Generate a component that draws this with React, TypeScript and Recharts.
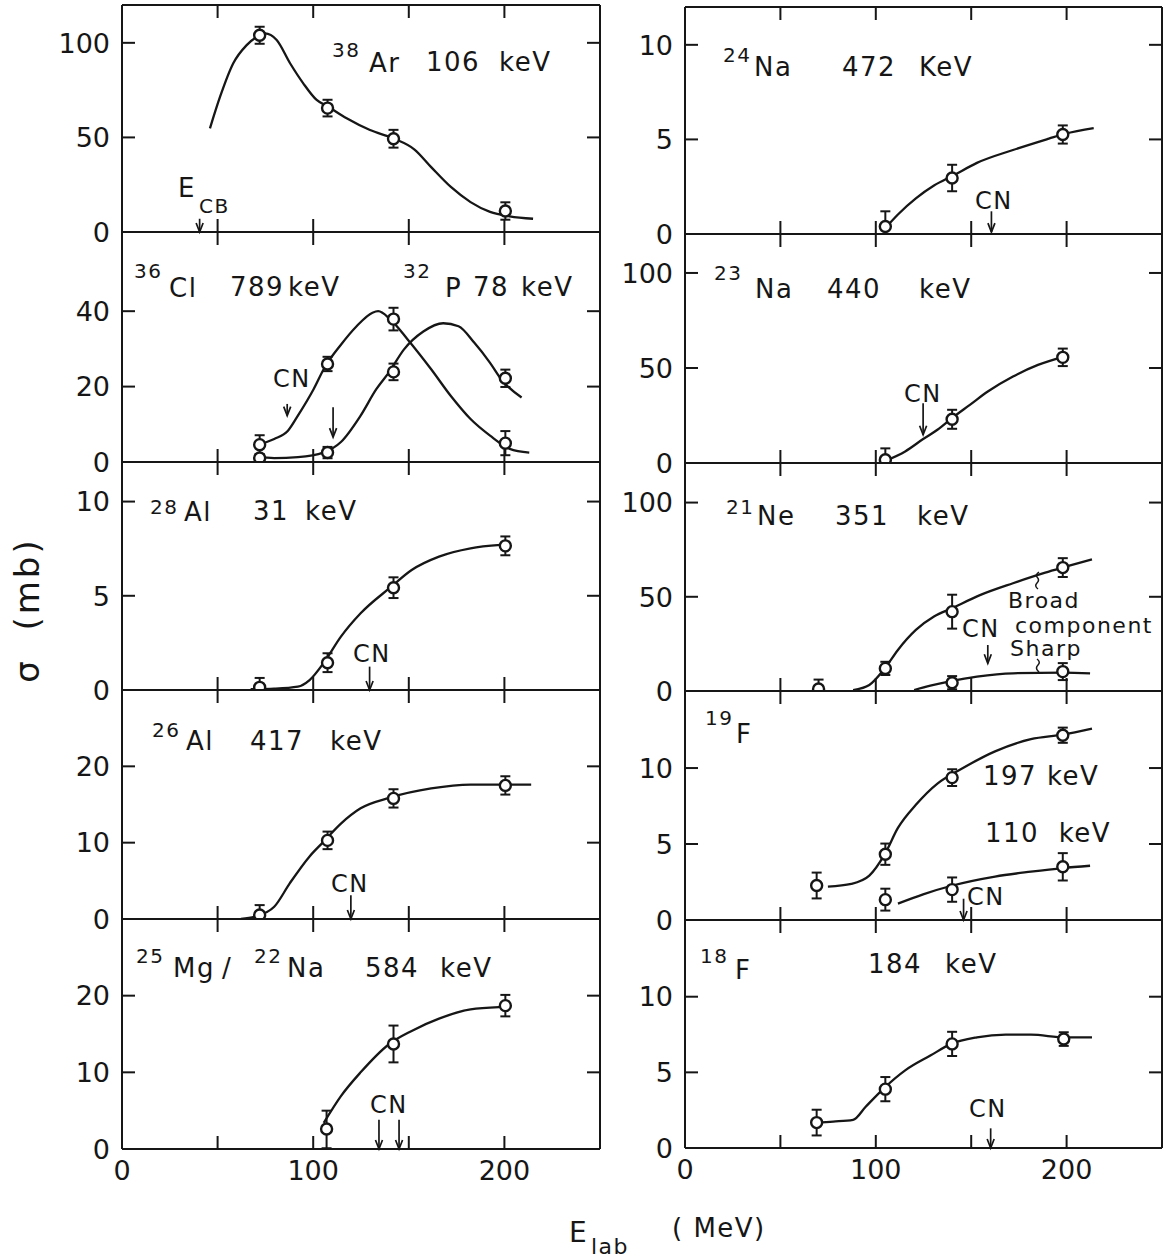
import React from 'react';
import { ComposedChart, Line, Scatter, XAxis, YAxis, ErrorBar, ReferenceLine } from 'recharts';

const FONT = '"DejaVu Sans", sans-serif';
const ink = '#161616';

// x axis (E lab, MeV)
const xTicks = [0, 50, 100, 150, 200, 250];

// measured points: [E, sigma, error]  (error may be [down, up])
const ar38Pts = [[72, 104, 4.5], [107.5, 65.5, 4.4], [142, 49.3, 4.7], [200.5, 11.1, 4.6]];
const na24Pts = [[105, 0.4, [0.4, 0.8]], [140, 2.96, 0.7], [198, 5.26, 0.48]];
const cl36Pts = [[72, 4.6, 2.5], [107.5, 26, 1.9], [142, 37.9, 3], [200.5, 5, 3.2]];
const p32Pts = [[72, 1.05, 0], [107.5, 2.5, 1.5], [142, 23.9, 2.2], [200.5, 22.2, 2.3]];
const na23Pts = [[105, 1.7, [1.7, 6]], [140, 23, 5], [198, 55.6, 4.6]];
const al28Pts = [[72, 0.14, [0.14, 0.5]], [107.5, 1.45, 0.5], [142, 5.43, 0.55], [200.5, 7.65, 0.5]];
const ne21BroadPts = [[70, 1.06, [1, 5]], [105, 12, 3.5], [140, 42.1, 9], [198, 65.5, 5]];
const ne21SharpPts = [[140, 4.4, 3.5], [198, 10.3, 4.5]];
const al26Pts = [[72, 0.52, [0.52, 1.3]], [107.5, 10.3, 1.15], [142, 15.8, 1.2], [200.5, 17.5, 1.2]];
const f19HiPts = [[69, 2.27, 0.85], [105, 4.33, 0.7], [140, 9.37, 0.55], [198, 12.16, 0.5]];
const f19LoPts = [[105, 1.34, 0.72], [140, 2.0, 0.8], [198, 3.5, 0.9]];
const mgPts = [[107, 2.6, [2.5, 2.4]], [142, 13.7, 2.4], [200.5, 18.7, 1.4]];
const f18Pts = [[69, 1.68, 0.85], [105, 3.89, 0.8], [140, 6.88, 0.8], [198.5, 7.2, 0.45]];

// hand-drawn fit curves: [E, sigma]
const ar38Fit = [[46, 54.8], [51.3, 71.5], [58.2, 89.2], [65.2, 98.8], [72.2, 104.1], [74.8, 105], [80.9, 101.5], [87.9, 89.2], [94.8, 78.6], [101.8, 69.8], [107.9, 66.2], [117.5, 60.1], [129.7, 53.9], [141.9, 49.5], [153, 43.6], [161.7, 34.3], [172, 23.8], [182.3, 15.8], [192.5, 10.6], [202.8, 8.3], [215, 7]];
const na24Fit = [[105.6, 0.38], [111.6, 1.03], [121, 1.88], [130.5, 2.56], [140.4, 3.08], [153, 3.76], [171.9, 4.44], [190.7, 5.04], [199.2, 5.3], [214.2, 5.6]];
const cl36Fit = [[69.4, 4.4], [79.6, 6.1], [86.8, 8.3], [92, 12.3], [100.2, 19.3], [105.9, 25], [114.5, 31.1], [122.7, 36], [131, 39.6], [134, 40], [140.2, 37.9], [149.4, 32.5], [161.7, 24.6], [172, 17.5], [182.3, 11.4], [192.5, 7], [202.8, 3.5], [213, 2.5]];
const p32Fit = [[70.4, 1.5], [79.6, 1.05], [92, 1.3], [105.3, 2.5], [114.5, 5.3], [124.8, 12.3], [133, 19.3], [139.8, 23.9], [147.4, 29.8], [157.6, 34.6], [168, 36.8], [176, 36], [184.3, 31.6], [192.5, 26.3], [198.7, 21.7], [209, 17.1]];
const na23Fit = [[105.6, 1.4], [115.4, 6.1], [124.8, 12.6], [132.3, 17.5], [139.9, 23.6], [149.3, 30.6], [158.7, 37.6], [171.9, 45.5], [185, 51.6], [198.6, 56]];
const al28Fit = [[67.3, 0.04], [79.6, 0.07], [92, 0.18], [98.1, 0.53], [105.9, 1.5], [114.5, 2.83], [124.8, 4.07], [140.2, 5.43], [151.5, 6.37], [165.8, 7.08], [182.3, 7.52], [198, 7.7]];
const ne21BroadFit = [[88.1, 0.5], [96.6, 3.2], [104.7, 12], [111.6, 21.8], [121, 32.4], [130.5, 39.5], [139.9, 43.9], [154.9, 51], [171.9, 57.2], [188.8, 62.8], [198.6, 65.7], [213.3, 69.9]];
const ne21SharpFit = [[120.1, 0.5], [128.6, 2.8], [138.9, 5.1], [153, 7.6], [171.9, 9.4], [198.2, 9.7], [212.3, 9.4]];
const al26Fit = [[62.2, 0], [69.4, 0.3], [79.6, 1.6], [87.8, 4.7], [98.1, 8.2], [105.3, 10.1], [114.5, 12.5], [124.8, 14.5], [140.2, 15.9], [161.7, 17.1], [182.3, 17.6], [214, 17.6]];
const f19HiFit = [[74.9, 2.2], [87.2, 2.38], [96.6, 2.92], [104.7, 4.33], [111.6, 6.06], [121, 7.58], [132.3, 8.98], [143.6, 9.85], [162.5, 11.1], [181.3, 11.9], [197.9, 12.2], [213.3, 12.6]];
const f19LoFit = [[111.6, 1.08], [124.8, 1.69], [140.2, 2.27], [162.5, 2.86], [181.3, 3.18], [197.9, 3.42], [212.3, 3.57]];
const mgFit = [[105.5, 3.4], [114.5, 6.9], [124.8, 10], [139.8, 13.7], [151.5, 15.4], [165.8, 17], [182.3, 18.2], [197.2, 18.5]];
const f18Fit = [[68.7, 1.68], [77.7, 1.75], [88.1, 1.86], [94.7, 2.73], [104.1, 3.93], [115.4, 5.13], [128.6, 6.11], [139.5, 6.88], [153, 7.31], [168.1, 7.49], [181.3, 7.49], [199.2, 7.31], [213.3, 7.31]];

// arrows (E_CB / CN): [E, from sigma, to sigma]
const ar38Arrows = [[40.6, 7, 0]];
const na24Arrows = [[160.6, 1.2, 0.1]];
const clpArrows = [[86.4, 15.4, 12.3], [110.4, 14.5, 6.6]];
const na23Arrows = [[124.8, 31.5, 14.9]];
const al28Arrows = [[129.5, 1.24, 0]];
const ne21Arrows = [[158.7, 24.4, 14.7]];
const al26Arrows = [[119.7, 3.1, 0]];
const f19Arrows = [[146, 1.4, 0]];
const mgArrows = [[134.4, 3.8, 0], [144.9, 3.8, 0]];
const f18Arrows = [[160.2, 1.3, 0]];

const toPts = (a: any[]) => a.map(([x, y, e]) => ({ x, y, e }));
const toFit = (a: number[][]) => a.map(([x, y]) => ({ x, y }));

type Panel = {
  left: number; top: number; bottom: number; plotW: number;
  yMax: number; yTicks: number[];
  fits: number[][][]; pts: any[][]; arrows: number[][]; last?: boolean;
};

const LCOL = { left: 122, plotW: 478 };
const RCOL = { left: 685, plotW: 477 };

const panels: Panel[] = [
  { ...LCOL, top: 5, bottom: 232, yMax: 120, yTicks: [0, 50, 100], fits: [ar38Fit], pts: [ar38Pts], arrows: ar38Arrows },
  { ...LCOL, top: 232, bottom: 462, yMax: 61, yTicks: [0, 20, 40], fits: [cl36Fit, p32Fit], pts: [cl36Pts, p32Pts], arrows: clpArrows },
  { ...LCOL, top: 462, bottom: 690, yMax: 12.1, yTicks: [0, 5, 10], fits: [al28Fit], pts: [al28Pts], arrows: al28Arrows },
  { ...LCOL, top: 690, bottom: 919, yMax: 30, yTicks: [0, 10, 20], fits: [al26Fit], pts: [al26Pts], arrows: al26Arrows },
  { ...LCOL, top: 919, bottom: 1149, yMax: 30, yTicks: [0, 10, 20], fits: [mgFit], pts: [mgPts], arrows: mgArrows, last: true },
  { ...RCOL, top: 7, bottom: 234, yMax: 12, yTicks: [0, 5, 10], fits: [na24Fit], pts: [na24Pts], arrows: na24Arrows },
  { ...RCOL, top: 234, bottom: 463, yMax: 120.5, yTicks: [0, 50, 100], fits: [na23Fit], pts: [na23Pts], arrows: na23Arrows },
  { ...RCOL, top: 463, bottom: 691, yMax: 121, yTicks: [0, 50, 100], fits: [ne21BroadFit, ne21SharpFit], pts: [ne21BroadPts, ne21SharpPts], arrows: ne21Arrows },
  { ...RCOL, top: 691, bottom: 920, yMax: 15.07, yTicks: [0, 5, 10], fits: [f19HiFit, f19LoFit], pts: [f19HiPts, f19LoPts], arrows: f19Arrows },
  { ...RCOL, top: 920, bottom: 1148, yMax: 15.07, yTicks: [0, 5, 10], fits: [f18Fit], pts: [f18Pts], arrows: f18Arrows, last: true },
];

const AXIS = { stroke: ink, strokeWidth: 2 };
const TL = 13;

function BottomTick(props: any) {
  const { x, y, payload, show } = props;
  const v = payload.value;
  return (
    <g>
      {v > 0 && v < 250 && <line x1={x} y1={y} x2={x} y2={y - TL} stroke={ink} strokeWidth={2} />}
      {show && v % 100 === 0 && (
        <text x={x} y={y + 31} textAnchor="middle" fontSize={27} fontFamily={FONT} fill={ink}>{v}</text>
      )}
    </g>
  );
}

function TopTick(props: any) {
  const { x, y, payload } = props;
  const v = payload.value;
  if (v <= 0 || v >= 250) return <g />;
  return <line x1={x} y1={y} x2={x} y2={y + TL} stroke={ink} strokeWidth={2} />;
}

function LeftTick(props: any) {
  const { x, y, payload, max } = props;
  const v = payload.value;
  return (
    <g>
      {v > 0 && v < max && <line x1={x} y1={y} x2={x + TL} y2={y} stroke={ink} strokeWidth={2} />}
      <text x={x - 12} y={y} dy="0.36em" textAnchor="end" fontSize={27} fontFamily={FONT} fill={ink}>{v}</text>
    </g>
  );
}

function RightTick(props: any) {
  const { x, y, payload, max } = props;
  const v = payload.value;
  if (v <= 0 || v >= max) return <g />;
  return <line x1={x} y1={y} x2={x - TL} y2={y} stroke={ink} strokeWidth={2} />;
}

const Ring = (props: any) => (
  <circle cx={props.cx} cy={props.cy} r={5.5} fill="#fff" stroke={ink} strokeWidth={2.4} />
);

const Arrow = (props: any) => {
  const { x1, y1, x2, y2 } = props;
  return (
    <g stroke={ink} strokeWidth={1.7} fill="none">
      <line x1={x1} y1={y1} x2={x2} y2={y2} />
      <polyline points={`${x2 - 3.5},${y2 - 9} ${x2},${y2} ${x2 + 3.5},${y2 - 9}`} />
    </g>
  );
};

function PanelChart({ p }: { p: Panel }) {
  const LW = 72, TOP = 20, RIGHT = 4;
  const BOT = p.last ? 50 : 20;
  const plotH = p.bottom - p.top;
  const W = LW + p.plotW + RIGHT;
  const H = TOP + plotH + BOT;
  return (
    <div style={{ position: 'absolute', left: p.left - LW, top: p.top - TOP }}>
      <ComposedChart width={W} height={H} margin={{ top: TOP - 1, right: RIGHT - 1, bottom: BOT - 1, left: 0 }}>
        <XAxis xAxisId="b" type="number" dataKey="x" domain={[0, 250]} ticks={xTicks} interval={0}
          allowDataOverflow height={1} tickSize={0} tickMargin={0} tickLine={false} axisLine={AXIS}
          tick={(t: any) => <BottomTick {...t} show={p.last} />} />
        <XAxis xAxisId="t" orientation="top" type="number" dataKey="x" domain={[0, 250]} ticks={xTicks} interval={0}
          allowDataOverflow height={1} tickSize={0} tickMargin={0} tickLine={false} axisLine={AXIS}
          tick={(t: any) => <TopTick {...t} />} />
        <YAxis yAxisId="l" type="number" dataKey="y" domain={[0, p.yMax]} ticks={p.yTicks} interval={0}
          allowDataOverflow width={LW} tickSize={0} tickMargin={0} tickLine={false} axisLine={AXIS}
          tick={(t: any) => <LeftTick {...t} max={p.yMax} />} />
        <YAxis yAxisId="r" orientation="right" type="number" dataKey="y" domain={[0, p.yMax]} ticks={p.yTicks} interval={0}
          allowDataOverflow width={1} tickSize={0} tickMargin={0} tickLine={false} axisLine={AXIS}
          tick={(t: any) => <RightTick {...t} max={p.yMax} />} />
        {p.fits.map((f, i) => (
          <Line key={'f' + i} xAxisId="b" yAxisId="l" data={toFit(f)} dataKey="y" type="monotone"
            stroke={ink} strokeWidth={2.3} dot={false} isAnimationActive={false} />
        ))}
        {p.arrows.map((a, i) => (
          <ReferenceLine key={'a' + i} xAxisId="b" yAxisId="l" ifOverflow="visible"
            segment={[{ x: a[0], y: a[1] }, { x: a[0], y: a[2] }]} shape={Arrow} />
        ))}
        {p.pts.map((s, i) => (
          <Scatter key={'s' + i} xAxisId="b" yAxisId="l" data={toPts(s)} dataKey="y" shape={Ring} isAnimationActive={false}>
            <ErrorBar dataKey="e" direction="y" width={5} stroke={ink} strokeWidth={2} />
          </Scatter>
        ))}
      </ComposedChart>
    </div>
  );
}

// annotation text: [x, baseline y, text, size]
const notes: [number, number, string, number][] = [
  [332, 57, '38', 20], [369, 72, 'Ar', 26], [426, 71, '106', 26], [499, 71, 'keV', 26],
  [178, 197, 'E', 26], [199, 213, 'CB', 20],
  [723, 62, '24', 20], [754, 76, 'Na', 26], [842, 76, '472', 26], [919, 76, 'KeV', 26],
  [975, 209, 'CN', 24],
  [134, 278, '36', 20], [169, 297, 'Cl', 26], [230, 296, '789', 26], [288, 296, 'keV', 26],
  [403, 278, '32', 20], [445, 297, 'P', 26], [473, 296, '78', 26], [521, 296, 'keV', 26],
  [273, 387, 'CN', 24],
  [714, 280, '23', 20], [755, 298, 'Na', 26], [827, 298, '440', 26], [919, 298, 'keV', 26],
  [904, 402, 'CN', 24],
  [150, 514, '28', 20], [184, 521, 'Al', 26], [253, 520, '31', 26], [305, 520, 'keV', 26],
  [353, 662, 'CN', 24],
  [726, 514, '21', 20], [757, 525, 'Ne', 26], [835, 525, '351', 26], [917, 525, 'keV', 26],
  [1008, 608, 'Broad', 22], [962, 637, 'CN', 24], [1015, 633, 'component', 22], [1010, 656, 'Sharp', 22],
  [152, 737, '26', 20], [186, 750, 'Al', 26], [250, 750, '417', 26], [330, 750, 'keV', 26],
  [331, 892, 'CN', 24],
  [705, 725, '19', 20], [736, 743, 'F', 26], [983, 785, '197 keV', 26], [985, 842, '110  keV', 26],
  [967, 905, 'CN', 24],
  [136, 963, '25', 20], [173, 977, 'Mg', 26], [222, 977, '/', 26], [254, 963, '22', 20], [287, 977, 'Na', 26],
  [365, 977, '584', 26], [440, 977, 'keV', 26],
  [370, 1113, 'CN', 24],
  [700, 963, '18', 20], [735, 979, 'F', 26], [868, 973, '184', 26], [945, 973, 'keV', 26],
  [969, 1117, 'CN', 24],
  [569, 1242, 'E', 28], [591, 1254, 'lab', 22], [672, 1237, '( MeV)', 26],
];

export default function App() {
  return (
    <div style={{ position: 'absolute', left: 0, top: 0, width: 1163, height: 1259, overflow: 'hidden', background: '#fff' }}>
      {panels.map((p, i) => <PanelChart key={i} p={p} />)}
      <svg width={1163} height={1259} style={{ position: 'absolute', left: 0, top: 0, pointerEvents: 'none' }}>
        {notes.map(([x, y, s, size], i) => (
          <text key={i} x={x} y={y} fontSize={size} fontFamily={FONT} fill={ink} letterSpacing={1.5} style={{ whiteSpace: 'pre' }}>{s}</text>
        ))}
        {/* squiggly leaders from "Broad" / "Sharp" to their curves */}
        <path d="M1038,589 q-4,-3 -1,-6 q3,-3 0,-6 q-2,-2 2,-5" stroke={ink} strokeWidth={1.5} fill="none" />
        <path d="M1037,659 q4,3 1,6 q-3,3 0,6 l1,1" stroke={ink} strokeWidth={1.5} fill="none" />
        <text x={27} y={610} transform="rotate(-90 27 610)" textAnchor="middle" dy="0.36em" fontSize={34}
          fontFamily={FONT} fill={ink} letterSpacing={3} style={{ whiteSpace: 'pre' }}>{'σ  (mb)'}</text>
      </svg>
    </div>
  );
}
